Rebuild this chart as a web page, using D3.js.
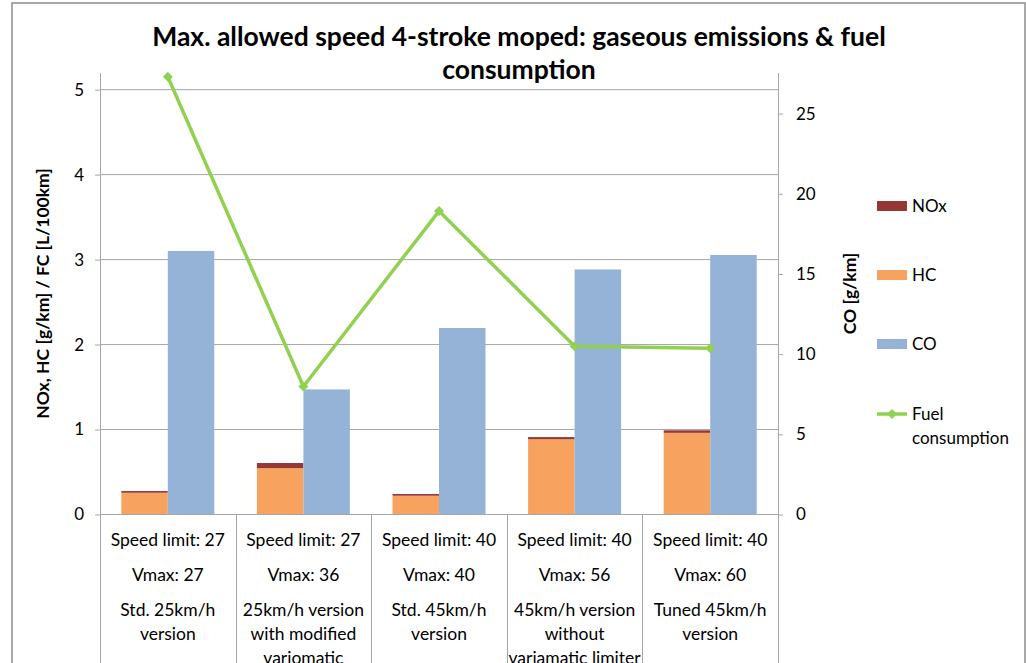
<!DOCTYPE html>
<html>
<head>
<meta charset="utf-8">
<script src="https://cdn.jsdelivr.net/npm/d3@7"></script>
<style>
  body { margin: 0; background: #fff; overflow: hidden; }
  text { font-family: Lato, "Liberation Sans", sans-serif; fill: #000; }
</style>
</head>
<body>
<svg></svg>
<script>
var width = 1026;
var height = 663;

// chart data
var speedLimit = [27, 27, 40, 40, 40];
var vmax = [27, 36, 40, 56, 60];
var versionLines = [
  ['Std. 25km/h', 'version'],
  ['25km/h version', 'with modified', 'variomatic'],
  ['Std. 45km/h', 'version'],
  ['45km/h version', 'without', 'variamatic limiter'],
  ['Tuned 45km/h', 'version']
];
var nox = [0.02, 0.06, 0.02, 0.025, 0.03];
var hc = [0.25, 0.54, 0.215, 0.88, 0.955];
var co = [16.4, 7.77, 11.6, 15.25, 16.15];
var fuel = [5.145, 1.50, 3.565, 1.975, 1.95];
var leftTicks = [0, 1, 2, 3, 4, 5];
var rightTicks = [0, 5, 10, 15, 20, 25];
var legendItems = ['NOx', 'HC', 'CO', 'Fuel consumption'];

var colors = { nox: '#953735', hc: '#F7A35F', co: '#95B3D7', fuel: '#92D050' };
var gridColor = '#a6a6a6';

var plot = { left: 100, right: 778, top: 73, bottom: 514 };

var svg = d3.select('svg')
    .attr('width', width)
    .attr('height', height);

// outer chart border
svg.append('rect')
    .attr('x', 12).attr('y', 3)
    .attr('width', 1013).attr('height', 700)
    .attr('fill', '#fff')
    .attr('stroke', '#8c8c8c')
    .attr('stroke-width', 1.5);

var x = d3.scaleBand()
    .domain(d3.range(speedLimit.length))
    .range([plot.left, plot.right]);

var xSub = d3.scaleBand()
    .domain(['hc', 'co'])
    .range([0, x.bandwidth()])
    .paddingOuter(0.458);

var yL = d3.scaleLinear().domain([0, 5.19]).range([plot.bottom, plot.top]);
var yR = d3.scaleLinear().domain([0, 27.5]).range([plot.bottom, plot.top]);

// gridlines
svg.append('g')
    .selectAll('line')
    .data(leftTicks)
    .enter().append('line')
    .attr('x1', plot.left).attr('x2', plot.right)
    .attr('y1', function(d) { return yL(d) + 0.5; })
    .attr('y2', function(d) { return yL(d) + 0.5; })
    .attr('stroke', gridColor);

// left axis
var leftAxis = svg.append('g')
    .attr('transform', 'translate(' + plot.left + ',0.5)')
    .call(d3.axisLeft(yL).tickValues(leftTicks).tickFormat(d3.format('d'))
        .tickSize(5).tickPadding(11));
leftAxis.select('.domain').remove();
leftAxis.selectAll('line').attr('stroke', gridColor);
leftAxis.selectAll('text')
    .style('font-family', 'Lato, sans-serif')
    .style('font-size', '17px');

// right axis
var rightAxis = svg.append('g')
    .attr('transform', 'translate(' + plot.right + ',0.5)')
    .call(d3.axisRight(yR).tickValues(rightTicks).tickFormat(d3.format('d'))
        .tickSize(5).tickPadding(13));
rightAxis.select('.domain').remove();
rightAxis.selectAll('line').attr('stroke', gridColor);
rightAxis.selectAll('text')
    .style('font-family', 'Lato, sans-serif')
    .style('font-size', '17px');

// vertical axis lines and category dividers
var dividers = d3.range(speedLimit.length + 1).map(function(i) {
    return i < speedLimit.length ? x(i) : plot.right;
});
svg.append('g')
    .selectAll('line')
    .data(dividers)
    .enter().append('line')
    .attr('x1', function(d) { return Math.round(d) + 0.5; })
    .attr('x2', function(d) { return Math.round(d) + 0.5; })
    .attr('y1', function(d, i) { return (i === 0 || i === speedLimit.length) ? plot.top : plot.bottom; })
    .attr('y2', height)
    .attr('stroke', gridColor);

// bars
var groups = svg.append('g')
    .selectAll('g')
    .data(d3.range(speedLimit.length))
    .enter().append('g')
    .attr('transform', function(i) { return 'translate(' + x(i) + ',0)'; });

groups.append('rect')
    .attr('x', xSub('hc'))
    .attr('width', xSub.bandwidth())
    .attr('y', function(i) { return yL(hc[i]); })
    .attr('height', function(i) { return yL(0) - yL(hc[i]); })
    .attr('fill', colors.hc);

groups.append('rect')
    .attr('x', xSub('hc'))
    .attr('width', xSub.bandwidth())
    .attr('y', function(i) { return yL(hc[i] + nox[i]); })
    .attr('height', function(i) { return yL(hc[i]) - yL(hc[i] + nox[i]); })
    .attr('fill', colors.nox);

groups.append('rect')
    .attr('x', xSub('co'))
    .attr('width', xSub.bandwidth())
    .attr('y', function(i) { return yR(co[i]); })
    .attr('height', function(i) { return yR(0) - yR(co[i]); })
    .attr('fill', colors.co);

// fuel consumption line
var line = d3.line()
    .x(function(d, i) { return x(i) + x.bandwidth() / 2; })
    .y(function(d) { return yL(d); });

svg.append('path')
    .datum(fuel)
    .attr('d', line)
    .attr('fill', 'none')
    .attr('stroke', colors.fuel)
    .attr('stroke-width', 3.5)
    .attr('stroke-linejoin', 'round');

var diamond = d3.symbol().type(d3.symbolSquare).size(50);
svg.append('g')
    .selectAll('path')
    .data(fuel)
    .enter().append('path')
    .attr('d', diamond)
    .attr('fill', colors.fuel)
    .attr('transform', function(d, i) {
        return 'translate(' + (x(i) + x.bandwidth() / 2) + ',' + yL(d) + ') rotate(45)';
    });

// category labels
var labels = svg.append('g')
    .selectAll('text')
    .data(d3.range(speedLimit.length))
    .enter().append('text')
    .attr('text-anchor', 'middle')
    .style('font-size', '17.5px');

labels.each(function(i) {
    var t = d3.select(this);
    var cx = x(i) + x.bandwidth() / 2;
    t.append('tspan').attr('x', cx).attr('y', 546).text('Speed limit: ' + speedLimit[i]);
    t.append('tspan').attr('x', cx).attr('y', 581).text('Vmax: ' + vmax[i]);
    versionLines[i].forEach(function(s, k) {
        t.append('tspan').attr('x', cx).attr('y', 616 + k * 24).text(s);
    });
});

// title
svg.append('text')
    .attr('x', 519)
    .attr('text-anchor', 'middle')
    .style('font-size', '26.5px')
    .style('font-weight', 'bold')
    .selectAll('tspan')
    .data(['Max. allowed speed 4-stroke moped: gaseous emissions & fuel', 'consumption'])
    .enter().append('tspan')
    .attr('x', 519)
    .attr('y', function(d, i) { return 46 + i * 33; })
    .text(function(d) { return d; });

// axis titles
var midY = (plot.top + plot.bottom) / 2;
svg.append('text')
    .attr('transform', 'translate(49,' + midY + ') rotate(-90)')
    .attr('text-anchor', 'middle')
    .style('font-size', '17.5px')
    .style('font-weight', 'bold')
    .text('NOx, HC [g/km] / FC [L/100km]');

svg.append('text')
    .attr('transform', 'translate(856,' + midY + ') rotate(-90)')
    .attr('text-anchor', 'middle')
    .style('font-size', '17.5px')
    .style('font-weight', 'bold')
    .text('CO [g/km]');

// legend
var legendY = [206, 275, 344, 414];
var legend = svg.append('g')
    .selectAll('g')
    .data(legendItems)
    .enter().append('g')
    .attr('transform', function(d, i) { return 'translate(877,' + legendY[i] + ')'; });

legend.filter(function(d, i) { return i < 3; })
    .append('rect')
    .attr('x', 0).attr('y', -5)
    .attr('width', 30).attr('height', 10)
    .attr('fill', function(d, i) { return [colors.nox, colors.hc, colors.co][i]; });

var fuelKey = legend.filter(function(d, i) { return i === 3; });
fuelKey.append('line')
    .attr('x1', 0).attr('x2', 30)
    .attr('stroke', colors.fuel)
    .attr('stroke-width', 3.5);
fuelKey.append('path')
    .attr('d', diamond)
    .attr('fill', colors.fuel)
    .attr('transform', 'translate(15,0) rotate(45)');

legend.append('text')
    .attr('x', 35)
    .attr('y', 6)
    .style('font-size', '17px')
    .each(function(d) {
        var t = d3.select(this);
        var parts = d === 'Fuel consumption' ? ['Fuel', 'consumption'] : [d];
        parts.forEach(function(p, k) {
            t.append('tspan').attr('x', 35).attr('y', 6 + k * 24).text(p);
        });
    });
</script>
</body>
</html>
